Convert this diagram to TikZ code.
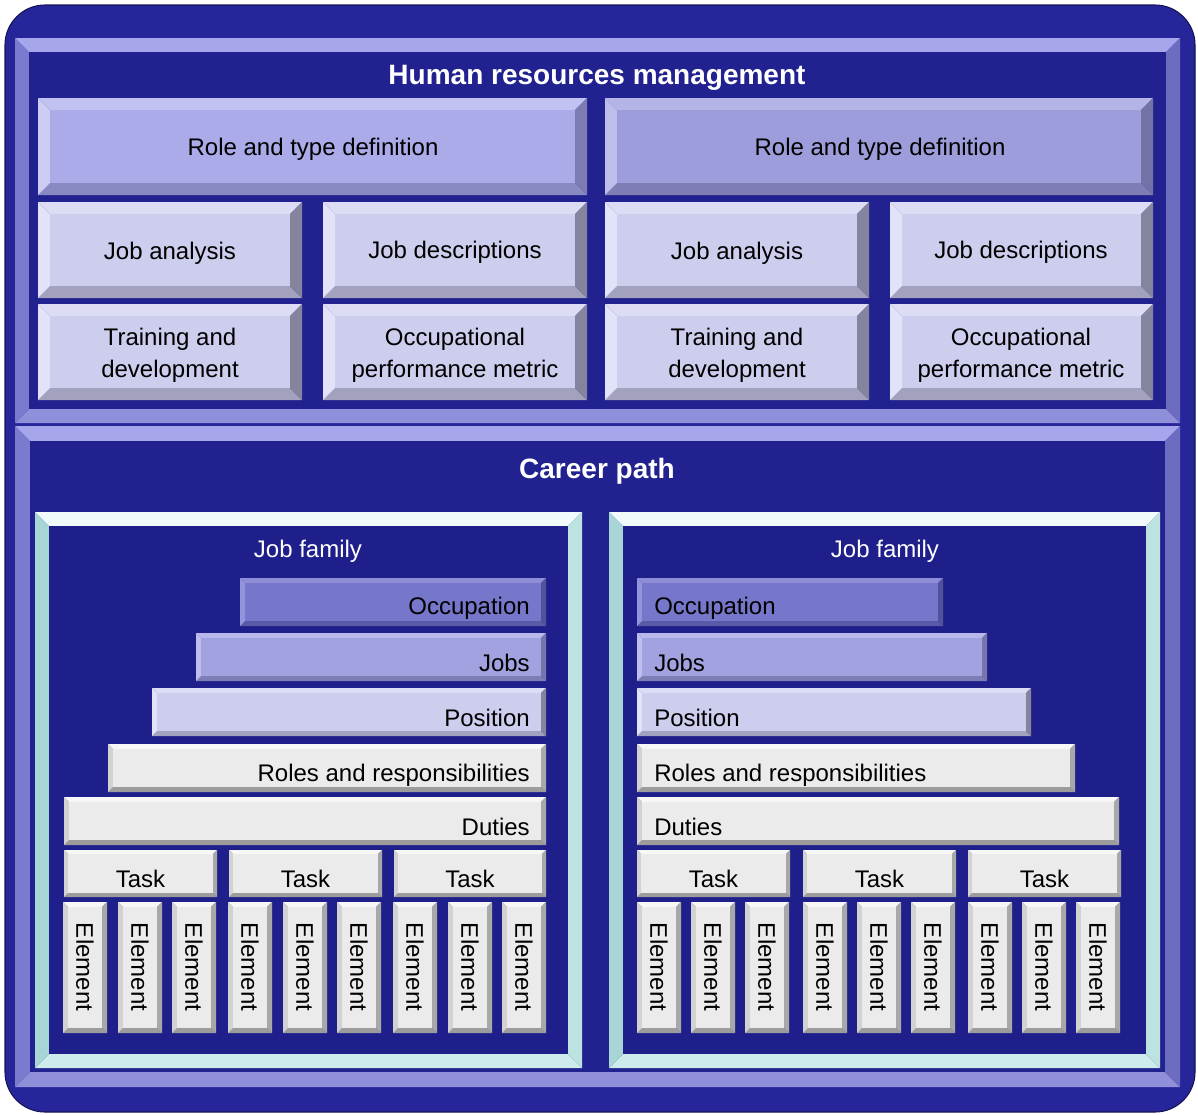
\documentclass[tikz,border=0pt]{standalone}
\usepackage{fontspec}
\setmainfont{Liberation Sans}
\definecolor{navy}{HTML}{21218F}
\definecolor{outerbg}{HTML}{26269A}
% frame (lavender)
\definecolor{frameF}{HTML}{21218F}
\definecolor{frameT}{HTML}{A6A6EC}
\definecolor{frameL}{HTML}{7A7ACE}
\definecolor{frameR}{HTML}{6C6CC0}
\definecolor{frameB}{HTML}{9090DA}
% job family frame (cyan)
\definecolor{famF}{HTML}{1F1F8C}
\definecolor{famT}{HTML}{F2FBFB}
\definecolor{famL}{HTML}{A8D6D6}
\definecolor{famR}{HTML}{BCE2E2}
\definecolor{famB}{HTML}{CDEBEB}
% role left
\definecolor{roleaF}{HTML}{ABABE9}
\definecolor{roleaT}{HTML}{C2C2F2}
\definecolor{roleaL}{HTML}{CDCDF4}
\definecolor{roleaB}{HTML}{8A8AC2}
\definecolor{roleaR}{HTML}{7C7CB2}
% role right
\definecolor{rolebF}{HTML}{9D9DDB}
\definecolor{rolebT}{HTML}{B4B4E6}
\definecolor{rolebL}{HTML}{BEBEEA}
\definecolor{rolebB}{HTML}{7E7EB4}
\definecolor{rolebR}{HTML}{7272A6}
% small top boxes
\definecolor{lightF}{HTML}{CDCDEE}
\definecolor{lightT}{HTML}{DCDCF5}
\definecolor{lightL}{HTML}{E2E2F8}
\definecolor{lightB}{HTML}{A2A2BE}
\definecolor{lightR}{HTML}{84849E}
% occupation
\definecolor{occF}{HTML}{7676CA}
\definecolor{occT}{HTML}{8E8ED8}
\definecolor{occL}{HTML}{9494DC}
\definecolor{occB}{HTML}{5A5AA8}
\definecolor{occR}{HTML}{52529C}
% jobs
\definecolor{jobF}{HTML}{A2A2E0}
\definecolor{jobT}{HTML}{B8B8EA}
\definecolor{jobL}{HTML}{BEBEEC}
\definecolor{jobB}{HTML}{7E7EB6}
\definecolor{jobR}{HTML}{7676AA}
% gray
\definecolor{grayF}{HTML}{EBEBEB}
\definecolor{grayT}{HTML}{F7F7F7}
\definecolor{grayL}{HTML}{D2D2D2}
\definecolor{grayB}{HTML}{9C9C9C}
\definecolor{grayR}{HTML}{A8A8A8}
\newcommand{\bevbox}[7]{%
 \fill[fill=#7T] (#2,#3) -- (#4,#3) -- ({#4-#6},{#3+#6}) -- ({#2+#6},{#3+#6}) -- cycle;
 \fill[fill=#7B] (#2,#5) -- (#4,#5) -- ({#4-#6},{#5-#6}) -- ({#2+#6},{#5-#6}) -- cycle;
 \fill[fill=#7L] (#2,#3) -- ({#2+#6},{#3+#6}) -- ({#2+#6},{#5-#6}) -- (#2,#5) -- cycle;
 \fill[fill=#7R] (#4,#3) -- ({#4-#6},{#3+#6}) -- ({#4-#6},{#5-#6}) -- (#4,#5) -- cycle;
 \node[inner sep=0pt,outer sep=0pt,fill=#7F,anchor=north west,
   minimum width={(#4-#2-2*#6)*0.75pt},minimum height={(#5-#3-2*#6)*0.75pt}] (#1) at ({#2+#6},{#3+#6}) {};
}
\begin{document}
\begin{tikzpicture}[x=0.75pt,y=-0.75pt,
  txt/.style={font=\fontsize{18}{24}\selectfont,text=black,inner sep=0pt,align=center},
  wtxt/.style={font=\fontsize{18}{24}\selectfont,text=white,inner sep=0pt},
  ttl/.style={font=\fontsize{21}{25}\selectfont\bfseries,text=white,inner sep=0pt}]
\useasboundingbox (0,0) rectangle (1198,1115);
\fill[white] (0,0) rectangle (1198,1115);
\draw[fill=outerbg,draw=navy!60!black,line width=0.8pt,rounded corners=30pt] (5,5) rectangle (1195,1112);

% panels
\bevbox{hrm}{15}{38}{1180}{423}{14}{frame}
\bevbox{career}{15}{426}{1180}{1087}{15}{frame}
\node[ttl] (hrmtitle) at (597,78) {Human resources management};
\node[ttl] (careertitle) at (597,471) {Career path};

% top boxes
\bevbox{roleA}{38}{98}{587}{195}{12}{rolea}
\bevbox{roleB}{605}{98}{1153}{195}{12}{roleb}
\node[txt] (roleAt) at (313,149) {Role and type definition};
\node[txt] (roleBt) at (880,149) {Role and type definition};

\bevbox{jaA}{38}{202}{302}{298}{12}{light}
\bevbox{jdA}{323}{202}{587}{298}{12}{light}
\bevbox{tdA}{38}{304}{302}{400}{12}{light}
\bevbox{opA}{323}{304}{587}{400}{12}{light}
\bevbox{jaB}{605}{202}{869}{298}{12}{light}
\bevbox{jdB}{890}{202}{1153}{298}{12}{light}
\bevbox{tdB}{605}{304}{869}{400}{12}{light}
\bevbox{opB}{890}{304}{1153}{400}{12}{light}
\node[txt] (jaAt) at (170,253) {Job analysis};
\node[txt] (jdAt) at (455,252) {Job descriptions};
\node[txt] (tdAt) at (170,355) {Training and\\development};
\node[txt] (opAt) at (455,355) {Occupational\\performance metric};
\node[txt] (jaBt) at (737,253) {Job analysis};
\node[txt] (jdBt) at (1021,252) {Job descriptions};
\node[txt] (tdBt) at (737,355) {Training and\\development};
\node[txt] (opBt) at (1021,355) {Occupational\\performance metric};

% job families
\bevbox{famA}{35}{512}{582}{1068}{14}{fam}
\bevbox{famB}{609}{512}{1160}{1068}{14}{fam}
\node[wtxt] (famAt) at (308,551) {Job family};
\node[wtxt] (famBt) at (885,551) {Job family};

% left pyramid
\bevbox{occA}{240}{578}{546}{626}{5}{occ}
\bevbox{jobsA}{196}{633}{546}{681}{5}{job}
\bevbox{posA}{152}{688}{546}{736}{5}{light}
\bevbox{rolesA}{108}{744}{546}{792}{5}{gray}
\bevbox{dutiesA}{64}{797}{546}{845}{5}{gray}
\node[txt,anchor=east] (occAt) at (530,608) {Occupation};
\node[txt,anchor=east] (jobsAt) at (530,663) {Jobs};
\node[txt,anchor=east] (posAt) at (530,718) {Position};
\node[txt,anchor=east] (rolesAt) at (530,775) {Roles and responsibilities};
\node[txt,anchor=east] (dutiesAt) at (530,827) {Duties};

% right pyramid
\bevbox{occB}{637}{578}{943}{626}{5}{occ}
\bevbox{jobsB}{637}{633}{987}{681}{5}{job}
\bevbox{posB}{637}{688}{1031}{736}{5}{light}
\bevbox{rolesB}{637}{744}{1075}{792}{5}{gray}
\bevbox{dutiesB}{637}{797}{1119}{845}{5}{gray}
\node[txt,anchor=west] (occBt) at (654,608) {Occupation};
\node[txt,anchor=west] (jobsBt) at (654,663) {Jobs};
\node[txt,anchor=west] (posBt) at (654,718) {Position};
\node[txt,anchor=west] (rolesBt) at (654,775) {Roles and responsibilities};
\node[txt,anchor=west] (dutiesBt) at (654,827) {Duties};

% tasks
\foreach \a/\b [count=\i] in {64/217,229/382,394/546,637/790,803/956,968/1121}{
  \bevbox{task\i}{\a}{850}{\b}{897}{4}{gray}
  \node[txt] (task\i t) at ({(\a+\b)/2},{879}) {Task};
}
% elements
\foreach \a [count=\i] in {63,118,172,228,283,337,393,448,502,637,691,745,803,857,911,968,1022,1076}{
  \bevbox{el\i}{\a}{902}{\a+44}{1033}{5}{gray}
  \node[txt,rotate=-90] (el\i t) at ({\a+22},{967}) {Element};
}
\end{tikzpicture}
\end{document}
